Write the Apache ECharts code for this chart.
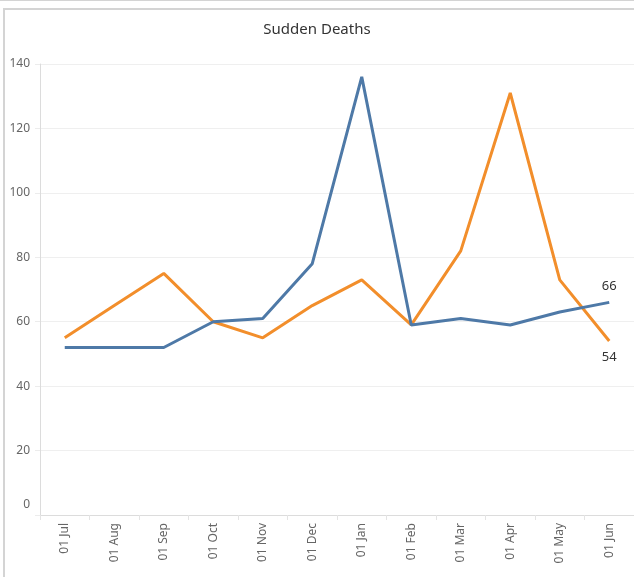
<!DOCTYPE html>
<html>
<head>
<meta charset="utf-8">
<script src="https://cdn.jsdelivr.net/npm/echarts@6/dist/echarts.min.js"></script>
<style>
  html, body { margin: 0; padding: 0; background: #fff; }
  #chart { width: 634px; height: 577px; }
</style>
</head>
<body>
<div id="chart"></div>
<script>
// months shown on the x axis
const months = ['01 Jul', '01 Aug', '01 Sep', '01 Oct', '01 Nov', '01 Dec',
                '01 Jan', '01 Feb', '01 Mar', '01 Apr', '01 May', '01 Jun']

// values
const blueSeries = [52, 52, 52, 60, 61, 78, 136, 59, 61, 59, 63, 66]
const orangeSeries = [55, 65, 75, 60, 55, 65, 73, 59, 82, 131, 73, 54]

const yTicks = [0, 20, 40, 60, 80, 100, 120, 140]

const fontName = '"Noto Sans", "Open Sans", sans-serif'

// only label the last point of each line, like the original
function lastLabel(pos) {
    return {
        show: true,
        position: pos,
        distance: 10,
        color: '#333',
        fontSize: 13,
        fontFamily: fontName,
        formatter: function (p) {
            return p.dataIndex === months.length - 1 ? String(p.value) : ''
        }
    }
}

const myChart = echarts.init(document.getElementById('chart'))

myChart.setOption({
    animation: false,
    title: {
        text: 'Sudden Deaths',
        left: 'center',
        top: 17,
        textStyle: {
            fontSize: 15,
            fontWeight: 'normal',
            color: '#333',
            fontFamily: fontName
        }
    },
    graphic: [
        // worksheet frame lines
        { type: 'rect', shape: { x: 0, y: 0, width: 640, height: 1 }, style: { fill: '#d4d4d4' } },
        { type: 'rect', shape: { x: 3, y: 8, width: 640, height: 2 }, style: { fill: '#d4d4d4' } },
        { type: 'rect', shape: { x: 3, y: 8, width: 2, height: 580 }, style: { fill: '#d4d4d4' } }
    ],
    grid: {
        left: 40,
        top: 64,
        width: 597,
        bottom: 62,
        containLabel: false
    },
    xAxis: {
        type: 'category',
        data: months,
        boundaryGap: true,
        axisLine: { show: true, lineStyle: { color: '#dcdcdc', width: 1 } },
        axisTick: { show: true, alignWithLabel: false, length: 5, lineStyle: { color: '#e4e4e4' } },
        axisLabel: {
            rotate: 90,
            margin: 8,
            color: '#666',
            fontSize: 12,
            fontFamily: fontName
        },
        splitLine: { show: false }
    },
    yAxis: {
        type: 'value',
        min: yTicks[0],
        max: yTicks[yTicks.length - 1],
        interval: 20,
        axisLine: { show: true, lineStyle: { color: '#dcdcdc', width: 1 } },
        axisTick: { show: true, length: 5, lineStyle: { color: '#ececec' } },
        axisLabel: {
            margin: 10,
            color: '#666',
            fontSize: 12,
            fontFamily: fontName,
            // the zero label sits a bit above its line in the original
            formatter: function (v) {
                return v === 0 ? '{z|0}' : String(v)
            },
            rich: {
                z: { padding: [0, 0, 20, 0], color: '#666', fontSize: 12, fontFamily: fontName }
            }
        },
        splitLine: { show: true, lineStyle: { color: '#efefef', width: 1 } }
    },
    series: [
        {
            name: 'orange',
            type: 'line',
            data: orangeSeries,
            symbol: 'circle',
            symbolSize: 0,
            lineStyle: { color: '#f28e2b', width: 3 },
            itemStyle: { color: '#f28e2b' },
            label: lastLabel('bottom'),
            z: 2
        },
        {
            name: 'blue',
            type: 'line',
            data: blueSeries,
            symbol: 'circle',
            symbolSize: 0,
            lineStyle: { color: '#4e79a7', width: 3 },
            itemStyle: { color: '#4e79a7' },
            label: lastLabel('top'),
            z: 3
        }
    ]
})
</script>
</body>
</html>
